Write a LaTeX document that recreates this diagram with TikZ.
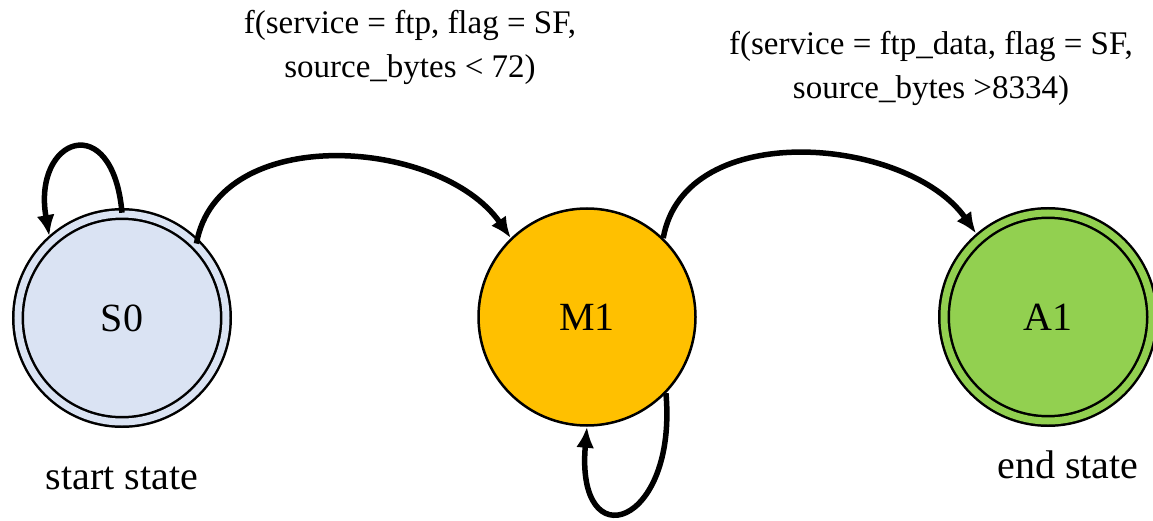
\documentclass[tikz,border=0pt]{standalone}
\usepackage{fontspec}
\setmainfont{Liberation Serif}
\usetikzlibrary{arrows.meta}

\definecolor{startblue}{HTML}{DAE3F3}
\definecolor{midorange}{HTML}{FFC000}
\definecolor{endgreen}{HTML}{92D050}

\begin{document}
\begin{tikzpicture}[x=1pt,y=1pt,
  state/.style={circle,draw,line width=2.5pt,inner sep=0pt,minimum size=217pt,font=\fontsize{40}{48}\selectfont},
  final/.style={state,minimum size=208pt,double distance=7pt},
  trans/.style={line width=5.5pt,-{Latex[length=21pt,width=18pt]}},
  cond/.style={align=center,inner sep=0pt,font=\fontsize{33}{44}\selectfont},
  tag/.style={inner sep=0pt,font=\fontsize{40}{48}\selectfont}]
\path[use as bounding box] (0,0) rectangle (1153,520);
% the three states
\node[final,fill=startblue,double=startblue] (s0) at (122,202) {S0};
\node[state,fill=midorange] (m1) at (587,203) {M1};
\node[final,fill=endgreen,double=endgreen] (a1) at (1048,203) {A1};
% transitions
\draw[trans,shorten >=5pt] (s0.90) to[out=95,in=100,looseness=3.5] (s0.133);
\draw[trans] (s0.45) to[out=80,in=125] (m1.134);
\draw[trans,shorten >=5pt] (m1.46) to[out=80,in=125] (a1.131);
\draw[trans] (m1.-44) to[out=-85,in=-95,looseness=4] (m1.-90);
% conditions on the transitions
\node[cond] (c1) at (410,473) {f(service = ftp, flag = SF,\\ source\_bytes < 72)};
\node[cond] (c2) at (931,452) {f(service = ftp\_data, flag = SF,\\ source\_bytes >8334)};
\node[tag] (t0) at (122,42) {start state};
\node[tag] (t1) at (1068,55) {end state};
\end{tikzpicture}
\end{document}
